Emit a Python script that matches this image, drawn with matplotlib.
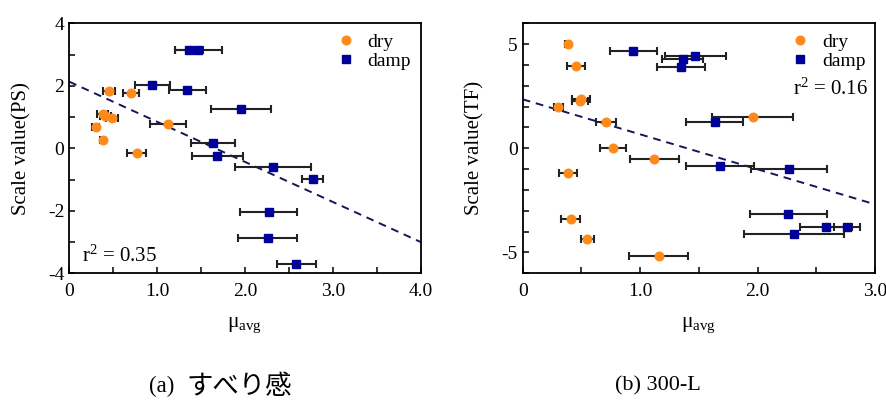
import matplotlib
matplotlib.use("Agg")
import matplotlib.pyplot as plt
from matplotlib.ticker import MultipleLocator, FixedFormatter, FixedLocator

plt.rcParams['font.family'] = ['Liberation Serif', 'Noto Sans CJK JP', 'DejaVu Sans']
plt.rcParams['mathtext.fontset'] = 'custom'
plt.rcParams['mathtext.rm'] = 'Liberation Serif'
plt.rcParams['mathtext.it'] = 'Liberation Serif:italic'
plt.rcParams['axes.unicode_minus'] = False

# ---- Panel (a) すべり感 ----
a_dry_x = [0.455, 0.70, 0.38, 0.41, 0.49, 0.30, 0.38, 1.12, 0.77]
a_dry_y = [1.84, 1.78, 1.085, 1.03, 0.96, 0.67, 0.28, 0.78, -0.16]
a_dry_xerr = [0.07, 0.09, 0.06, 0.06, 0.07, 0.04, 0.03, 0.205, 0.108]

a_damp_x = [1.366, 1.469, 0.945, 1.343, 1.958, 1.636, 1.685, 2.32, 2.77, 2.27, 2.26, 2.585]
a_damp_y = [3.14, 3.14, 2.04, 1.85, 1.255, 0.16, -0.245, -0.585, -0.97, -2.05, -2.86, -3.70]
a_damp_xerr = [0.16, 0.265, 0.20, 0.21, 0.34, 0.245, 0.29, 0.43, 0.12, 0.325, 0.335, 0.225]

a_fit_x = [0.0, 4.0]
a_fit_y = [2.13, -3.0]
a_r2 = "0.35"

# ---- Panel (b) 300-L ----
b_dry_x = [0.383, 0.454, 0.497, 0.49, 0.304, 0.71, 1.958, 0.772, 1.121, 0.383, 0.409, 0.551, 1.158]
b_dry_y = [5.0, 3.97, 2.37, 2.29, 1.97, 1.26, 1.49, 0.03, -0.51, -1.17, -3.41, -4.35, -5.15]
b_dry_xerr = [0.02, 0.078, 0.075, 0.07, 0.035, 0.088, 0.342, 0.11, 0.21, 0.075, 0.08, 0.052, 0.25]

b_damp_x = [0.942, 1.47, 1.362, 1.351, 1.635, 1.68, 2.268, 2.262, 2.58, 2.759, 2.313]
b_damp_y = [4.66, 4.45, 4.27, 3.89, 1.26, -0.85, -1.01, -3.15, -3.79, -3.79, -4.13]
b_damp_xerr = [0.2, 0.26, 0.175, 0.205, 0.245, 0.29, 0.32, 0.33, 0.22, 0.11, 0.425]

b_fit_x = [0.0, 3.0]
b_fit_y = [2.35, -2.69]
b_r2 = "0.16"

ORANGE = '#FF8A1C'
BLUE = '#00009A'
FS = 14

fig = plt.figure(figsize=(8.86, 4.0), dpi=100)
axa = fig.add_axes([0.0782, 0.3168, 0.3966, 0.625])
axb = fig.add_axes([0.590, 0.3168, 0.3976, 0.625])


def draw(ax, dx, dy, dxe, mx, my, mxe, fx, fy):
    ax.plot(fx, fy, linestyle=(0, (4, 3)), color='#15155a', lw=1.4, zorder=1)
    ax.errorbar(dx, dy, xerr=dxe, fmt='none', ecolor='#222222', elinewidth=1.5,
                capsize=3, capthick=1.5, zorder=2)
    ax.errorbar(mx, my, xerr=mxe, fmt='none', ecolor='#222222', elinewidth=1.5,
                capsize=3, capthick=1.5, zorder=2)
    ax.plot(dx, dy, 'o', color=ORANGE, ms=6.2, mec=ORANGE, zorder=3, label='dry')
    ax.plot(mx, my, 's', color=BLUE, ms=6.2, mec=BLUE, zorder=3, label='damp')
    ax.tick_params(which='both', direction='in', length=4, width=1.1, labelsize=FS)
    ax.tick_params(axis='x', which='both', pad=7)
    for s in ax.spines.values():
        s.set_linewidth(1.3)
    ax.set_xlabel(r'μ$_{\rm avg}$', fontsize=15.5, labelpad=11)


draw(axa, a_dry_x, a_dry_y, a_dry_xerr, a_damp_x, a_damp_y, a_damp_xerr, a_fit_x, a_fit_y)
axa.set_xlim(0, 4.0)
axa.set_ylim(-4, 4)
axa.xaxis.set_major_locator(FixedLocator([0, 1, 2, 3, 4]))
axa.xaxis.set_major_formatter(FixedFormatter(['0', '1.0', '2.0', '3.0', '4.0']))
axa.xaxis.set_minor_locator(MultipleLocator(0.5))
axa.yaxis.set_major_locator(MultipleLocator(2))
axa.yaxis.set_minor_locator(MultipleLocator(1))
axa.set_ylabel('Scale value(PS)', fontsize=15, labelpad=12)
axa.text(0.035, 0.07, r'r$^2$ = ' + a_r2, transform=axa.transAxes, fontsize=15,
         ha='left', va='center')
axa.legend(loc='upper right', bbox_to_anchor=(1.0, 1.0), frameon=False, fontsize=FS,
           handletextpad=0.5, labelspacing=0.1, handlelength=1.2, borderaxespad=0.1)

draw(axb, b_dry_x, b_dry_y, b_dry_xerr, b_damp_x, b_damp_y, b_damp_xerr, b_fit_x, b_fit_y)
axb.set_xlim(0, 3.0)
axb.set_ylim(-6, 6)
axb.xaxis.set_major_locator(FixedLocator([0, 1, 2, 3]))
axb.xaxis.set_major_formatter(FixedFormatter(['0', '1.0', '2.0', '3.0']))
axb.xaxis.set_minor_locator(MultipleLocator(0.5))
axb.yaxis.set_major_locator(MultipleLocator(5))
axb.yaxis.set_minor_locator(MultipleLocator(1))
axb.set_ylabel('Scale value(TF)', fontsize=15, labelpad=12)
axb.text(0.98, 0.735, r'r$^2$ = ' + b_r2, transform=axb.transAxes, fontsize=15,
         ha='right', va='center')
axb.legend(loc='upper right', bbox_to_anchor=(1.0, 1.0), frameon=False, fontsize=FS,
           handletextpad=0.5, labelspacing=0.1, handlelength=1.2, borderaxespad=0.1)

fig.text(0.183, 0.035, '(a)', fontsize=16.5, ha='center', va='center')
fig.text(0.270, 0.033, 'すべり感', fontsize=19, ha='center', va='center',
         family=['Noto Sans CJK JP', 'DejaVu Sans'])
fig.text(0.743, 0.035, '(b) 300-L', fontsize=16, ha='center', va='center')

fig.savefig('out.png', dpi=100)
